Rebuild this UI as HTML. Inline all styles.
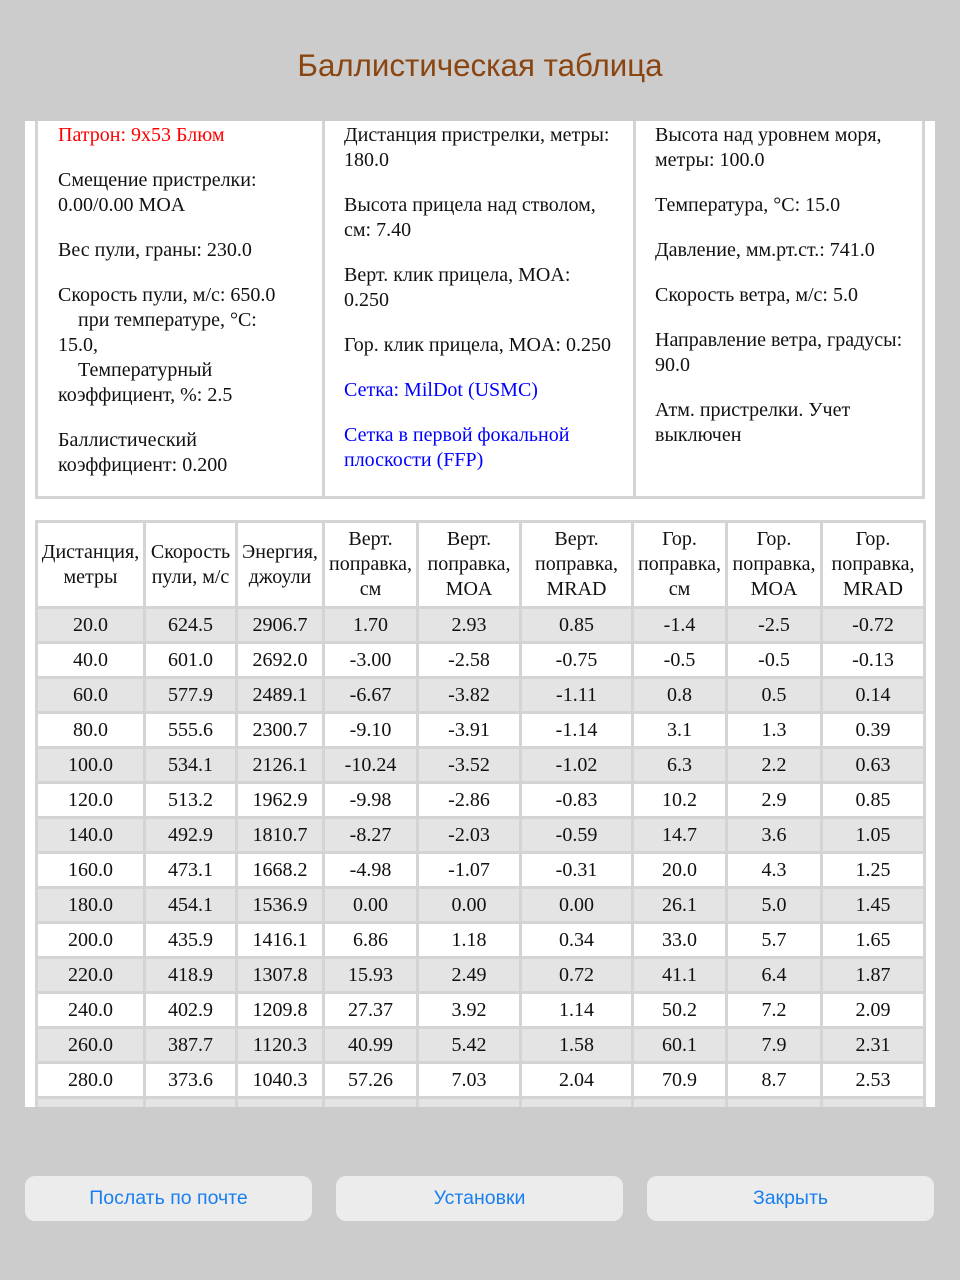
<!DOCTYPE html>
<html><head><meta charset="utf-8"><style>
body{margin:0;width:960px;height:1280px;background:#cccccc;position:relative;overflow:hidden;font-family:"Liberation Serif",serif;}
.title{position:absolute;top:48px;left:0;width:960px;text-align:center;font-family:"Liberation Sans",sans-serif;font-size:31.3px;color:#8a4510;}
.frame{position:absolute;left:25px;top:121px;width:910px;height:986px;background:#fff;overflow:hidden;}
.info{position:absolute;left:10px;top:-3px;width:890px;height:381px;border:3px solid #d4d4d4;box-sizing:border-box;}
.col{position:absolute;top:0;height:100%;font-size:20px;line-height:25px;color:#111;}
.col p{margin:0 0 20px 0;}
.sep{position:absolute;top:0;width:3px;height:100%;background:#d4d4d4;}
.red{color:#f00}.blue{color:#00f}
table{position:absolute;left:10px;top:399px;border-collapse:collapse;font-size:20px;color:#111;}
td{border:3px solid #d4d4d4;text-align:center;padding:0;height:32px;}
tr.h td{height:83px;line-height:25px;}
tr.g td{background:#e4e4e4;}
.btn{position:absolute;top:1176px;height:45px;width:287px;background:#ececec;border-radius:10px;font-family:"Liberation Sans",sans-serif;font-size:19.5px;color:#1a7ff0;text-align:center;line-height:45px;}
</style></head><body>
<div class="title">Баллистическая таблица</div>
<div class="frame">
<div class="info">
<div class="sep" style="left:284px"></div><div class="sep" style="left:595px"></div>
<div class="col" style="left:20px;top:2px;width:262px">
<p class="red">Патрон: 9x53 Блюм</p>
<p>Смещение пристрелки:<br>0.00/0.00 MOA</p>
<p>Вес пули, граны: 230.0</p>
<p>Скорость пули, м/с: 650.0<br>&nbsp;&nbsp;&nbsp;&nbsp;при температуре, °C:<br>15.0,<br>&nbsp;&nbsp;&nbsp;&nbsp;Температурный<br>коэффициент, %: 2.5</p>
<p>Баллистический<br>коэффициент: 0.200</p>
</div>
<div class="col" style="left:306px;top:2px;width:288px">
<p>Дистанция пристрелки, метры:<br>180.0</p>
<p>Высота прицела над стволом,<br>см: 7.40</p>
<p>Верт. клик прицела, MOA:<br>0.250</p>
<p>Гор. клик прицела, MOA: 0.250</p>
<p class="blue">Сетка: MilDot (USMC)</p>
<p class="blue">Сетка в первой фокальной<br>плоскости (FFP)</p>
</div>
<div class="col" style="left:617px;top:2px;width:272px">
<p>Высота над уровнем моря,<br>метры: 100.0</p>
<p>Температура, °C: 15.0</p>
<p>Давление, мм.рт.ст.: 741.0</p>
<p>Скорость ветра, м/с: 5.0</p>
<p>Направление ветра, градусы:<br>90.0</p>
<p>Атм. пристрелки. Учет<br>выключен</p>
</div>
</div>
<table>
<colgroup><col style="width:108px"><col style="width:92px"><col style="width:87px"><col style="width:94px"><col style="width:103px"><col style="width:112px"><col style="width:94px"><col style="width:95px"><col style="width:103px"></colgroup>
<tr class="h"><td>Дистанция,<br>метры</td><td>Скорость<br>пули, м/с</td><td>Энергия,<br>джоули</td><td>Верт.<br>поправка,<br>см</td><td>Верт.<br>поправка,<br>MOA</td><td>Верт.<br>поправка,<br>MRAD</td><td>Гор.<br>поправка,<br>см</td><td>Гор.<br>поправка,<br>MOA</td><td>Гор.<br>поправка,<br>MRAD</td></tr>
<tr class="g"><td>20.0</td><td>624.5</td><td>2906.7</td><td>1.70</td><td>2.93</td><td>0.85</td><td>-1.4</td><td>-2.5</td><td>-0.72</td></tr>
<tr><td>40.0</td><td>601.0</td><td>2692.0</td><td>-3.00</td><td>-2.58</td><td>-0.75</td><td>-0.5</td><td>-0.5</td><td>-0.13</td></tr>
<tr class="g"><td>60.0</td><td>577.9</td><td>2489.1</td><td>-6.67</td><td>-3.82</td><td>-1.11</td><td>0.8</td><td>0.5</td><td>0.14</td></tr>
<tr><td>80.0</td><td>555.6</td><td>2300.7</td><td>-9.10</td><td>-3.91</td><td>-1.14</td><td>3.1</td><td>1.3</td><td>0.39</td></tr>
<tr class="g"><td>100.0</td><td>534.1</td><td>2126.1</td><td>-10.24</td><td>-3.52</td><td>-1.02</td><td>6.3</td><td>2.2</td><td>0.63</td></tr>
<tr><td>120.0</td><td>513.2</td><td>1962.9</td><td>-9.98</td><td>-2.86</td><td>-0.83</td><td>10.2</td><td>2.9</td><td>0.85</td></tr>
<tr class="g"><td>140.0</td><td>492.9</td><td>1810.7</td><td>-8.27</td><td>-2.03</td><td>-0.59</td><td>14.7</td><td>3.6</td><td>1.05</td></tr>
<tr><td>160.0</td><td>473.1</td><td>1668.2</td><td>-4.98</td><td>-1.07</td><td>-0.31</td><td>20.0</td><td>4.3</td><td>1.25</td></tr>
<tr class="g"><td>180.0</td><td>454.1</td><td>1536.9</td><td>0.00</td><td>0.00</td><td>0.00</td><td>26.1</td><td>5.0</td><td>1.45</td></tr>
<tr><td>200.0</td><td>435.9</td><td>1416.1</td><td>6.86</td><td>1.18</td><td>0.34</td><td>33.0</td><td>5.7</td><td>1.65</td></tr>
<tr class="g"><td>220.0</td><td>418.9</td><td>1307.8</td><td>15.93</td><td>2.49</td><td>0.72</td><td>41.1</td><td>6.4</td><td>1.87</td></tr>
<tr><td>240.0</td><td>402.9</td><td>1209.8</td><td>27.37</td><td>3.92</td><td>1.14</td><td>50.2</td><td>7.2</td><td>2.09</td></tr>
<tr class="g"><td>260.0</td><td>387.7</td><td>1120.3</td><td>40.99</td><td>5.42</td><td>1.58</td><td>60.1</td><td>7.9</td><td>2.31</td></tr>
<tr><td>280.0</td><td>373.6</td><td>1040.3</td><td>57.26</td><td>7.03</td><td>2.04</td><td>70.9</td><td>8.7</td><td>2.53</td></tr>
<tr class="g"><td>300.0</td><td>360.3</td><td>967.6</td><td>76.23</td><td>8.73</td><td>2.54</td><td>82.6</td><td>9.5</td><td>2.75</td></tr>
</table>
</div>
<div class="btn" style="left:25px">Послать по почте</div>
<div class="btn" style="left:336px">Установки</div>
<div class="btn" style="left:647px">Закрыть</div>
</body></html>
